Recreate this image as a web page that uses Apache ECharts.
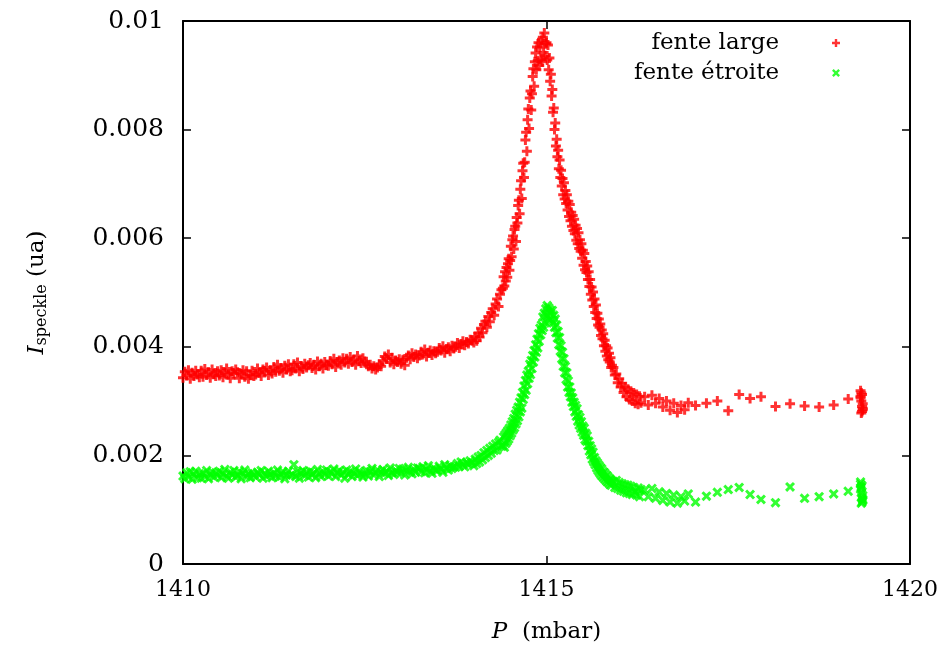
<!DOCTYPE html>
<html>
<head>
<meta charset="utf-8">
<script src="https://cdn.jsdelivr.net/npm/echarts@6/dist/echarts.min.js"></script>
<style>
  html, body { margin: 0; padding: 0; background: #fff; }
  #chart { width: 949px; height: 651px; }
</style>
</head>
<body>
<div id="chart"></div>
<script>
// pression (mbar), commune aux deux mesures
const pressure = [
  1410.000, 1410.025, 1410.050, 1410.075, 1410.100, 1410.125, 1410.150, 1410.175, 1410.200, 1410.225,
  1410.250, 1410.275, 1410.300, 1410.325, 1410.350, 1410.375, 1410.400, 1410.425, 1410.450, 1410.475,
  1410.500, 1410.525, 1410.550, 1410.575, 1410.600, 1410.625, 1410.650, 1410.675, 1410.700, 1410.725,
  1410.750, 1410.775, 1410.800, 1410.825, 1410.850, 1410.875, 1410.900, 1410.925, 1410.950, 1410.975,
  1411.000, 1411.025, 1411.050, 1411.075, 1411.100, 1411.125, 1411.150, 1411.175, 1411.200, 1411.225,
  1411.250, 1411.275, 1411.300, 1411.325, 1411.350, 1411.375, 1411.400, 1411.425, 1411.450, 1411.475,
  1411.500, 1411.525, 1411.550, 1411.575, 1411.600, 1411.625, 1411.650, 1411.675, 1411.700, 1411.725,
  1411.750, 1411.775, 1411.800, 1411.825, 1411.850, 1411.875, 1411.900, 1411.925, 1411.950, 1411.975,
  1412.000, 1412.025, 1412.050, 1412.075, 1412.100, 1412.125, 1412.150, 1412.175, 1412.200, 1412.225,
  1412.250, 1412.275, 1412.300, 1412.325, 1412.350, 1412.375, 1412.400, 1412.425, 1412.450, 1412.475,
  1412.500, 1412.525, 1412.550, 1412.575, 1412.600, 1412.625, 1412.650, 1412.675, 1412.700, 1412.725,
  1412.750, 1412.775, 1412.800, 1412.825, 1412.850, 1412.875, 1412.900, 1412.925, 1412.950, 1412.975,
  1413.000, 1413.025, 1413.050, 1413.075, 1413.100, 1413.125, 1413.150, 1413.175, 1413.200, 1413.225,
  1413.250, 1413.275, 1413.300, 1413.325, 1413.350, 1413.375, 1413.400, 1413.425, 1413.450, 1413.475,
  1413.500, 1413.525, 1413.550, 1413.575, 1413.600, 1413.625, 1413.650, 1413.675, 1413.700, 1413.725,
  1413.750, 1413.775, 1413.800, 1413.825, 1413.850, 1413.875, 1413.900, 1413.925, 1413.950, 1413.975,
  1414.00, 1414.02, 1414.04, 1414.06, 1414.08, 1414.10, 1414.12, 1414.14, 1414.16, 1414.18,
  1414.20, 1414.22, 1414.24, 1414.26, 1414.28, 1414.30, 1414.32, 1414.34, 1414.36, 1414.38,
  1414.40, 1414.41, 1414.42, 1414.43, 1414.44, 1414.45, 1414.46, 1414.47, 1414.48, 1414.49,
  1414.50, 1414.51, 1414.52, 1414.53, 1414.54, 1414.55, 1414.56, 1414.57, 1414.58, 1414.59,
  1414.60, 1414.61, 1414.62, 1414.63, 1414.64, 1414.65, 1414.66, 1414.67, 1414.68, 1414.69,
  1414.70, 1414.71, 1414.72, 1414.73, 1414.74, 1414.75, 1414.76, 1414.77, 1414.78, 1414.79,
  1414.80, 1414.81, 1414.82, 1414.83, 1414.84, 1414.85, 1414.86, 1414.87, 1414.88, 1414.89,
  1414.90, 1414.91, 1414.92, 1414.93, 1414.94, 1414.95, 1414.96, 1414.97, 1414.98, 1414.99,
  1415.00, 1415.01, 1415.02, 1415.03, 1415.04, 1415.05, 1415.06, 1415.07, 1415.08, 1415.09,
  1415.10, 1415.11, 1415.12, 1415.13, 1415.14, 1415.15, 1415.16, 1415.17, 1415.18, 1415.19,
  1415.20, 1415.21, 1415.22, 1415.23, 1415.24, 1415.25, 1415.26, 1415.27, 1415.28, 1415.29,
  1415.30, 1415.31, 1415.32, 1415.33, 1415.34, 1415.35, 1415.36, 1415.37, 1415.38, 1415.39,
  1415.40, 1415.41, 1415.42, 1415.43, 1415.44, 1415.45, 1415.46, 1415.47, 1415.48, 1415.49,
  1415.50, 1415.51, 1415.52, 1415.53, 1415.54, 1415.55, 1415.56, 1415.57, 1415.58, 1415.59,
  1415.60, 1415.61, 1415.62, 1415.63, 1415.64, 1415.65, 1415.66, 1415.67, 1415.68, 1415.69,
  1415.70, 1415.71, 1415.72, 1415.73, 1415.74, 1415.75, 1415.76, 1415.77, 1415.78, 1415.79,
  1415.80, 1415.81, 1415.82, 1415.83, 1415.84, 1415.85, 1415.86, 1415.87, 1415.88, 1415.89,
  1415.90,
  1415.92, 1415.94, 1415.96, 1415.98, 1416.00, 1416.02, 1416.04, 1416.06, 1416.08, 1416.10,
  1416.12, 1416.14, 1416.16, 1416.18, 1416.20, 1416.22, 1416.24, 1416.26, 1416.28, 1416.30,
  1416.35, 1416.40, 1416.45, 1416.50, 1416.55, 1416.60, 1416.65, 1416.70, 1416.75, 1416.80,
  1416.85, 1416.90, 1416.95,
  1417.05, 1417.20, 1417.35, 1417.50, 1417.65, 1417.80, 1417.95, 1418.15, 1418.35, 1418.55,
  1418.75, 1418.95, 1419.15,
  1419.32, 1419.33, 1419.34, 1419.35, 1419.32, 1419.34, 1419.33, 1419.35, 1419.32, 1419.34,
  1419.33, 1419.35
];

// I_speckle (ua), fente large
const fenteLarge = [
  0.00343, 0.00354, 0.00347, 0.00357, 0.00341, 0.00352, 0.00346, 0.00356, 0.00349, 0.00344,
  0.00356, 0.00345, 0.00359, 0.00348, 0.00353, 0.00343, 0.00358, 0.00350, 0.00346, 0.00355,
  0.00347, 0.00357, 0.00344, 0.00352, 0.00360, 0.00349, 0.00342, 0.00355, 0.00351, 0.00358,
  0.00353, 0.00342, 0.00350, 0.00357, 0.00345, 0.00355, 0.00341, 0.00348, 0.00356, 0.00346,
  0.00349, 0.00360, 0.00352, 0.00346, 0.00358, 0.00355, 0.00362, 0.00348, 0.00357, 0.00351,
  0.00363, 0.00354, 0.00367, 0.00356, 0.00361, 0.00352, 0.00365, 0.00358, 0.00368, 0.00355,
  0.00357, 0.00368, 0.00360, 0.00371, 0.00355, 0.00364, 0.00359, 0.00369, 0.00362, 0.00366,
  0.00370, 0.00361, 0.00367, 0.00358, 0.00373, 0.00364, 0.00369, 0.00360, 0.00372, 0.00366,
  0.00365, 0.00374, 0.00368, 0.00378, 0.00363, 0.00372, 0.00375, 0.00367, 0.00379, 0.00371,
  0.00378, 0.00369, 0.00381, 0.00372, 0.00376, 0.00367, 0.00383, 0.00374, 0.00370, 0.00379,
  0.00373, 0.00368, 0.00364, 0.00367, 0.00360, 0.00364, 0.00358, 0.00362, 0.00368, 0.00364,
  0.00374, 0.00382, 0.00378, 0.00386, 0.00371, 0.00380, 0.00368, 0.00375, 0.00372, 0.00377,
  0.00369, 0.00376, 0.00366, 0.00380, 0.00384, 0.00377, 0.00388, 0.00381, 0.00386, 0.00379,
  0.00384, 0.00391, 0.00386, 0.00395, 0.00382, 0.00389, 0.00393, 0.00385, 0.00392, 0.00388,
  0.00391, 0.00398, 0.00393, 0.00401, 0.00389, 0.00396, 0.00399, 0.00392, 0.00402, 0.00397,
  0.00400, 0.00407, 0.00398, 0.00405, 0.00410, 0.00403, 0.00409, 0.00406, 0.00413, 0.00411,
  0.00408, 0.00419, 0.00411, 0.00425, 0.00418, 0.00434, 0.00426, 0.00441, 0.00447, 0.00436,
  0.00456, 0.00446, 0.00463, 0.00470, 0.00458, 0.00479, 0.00488, 0.00474, 0.00497, 0.00505,
  0.00508, 0.00529, 0.00512, 0.00538, 0.00521, 0.00546, 0.00528, 0.00553, 0.00562, 0.00541,
  0.00559, 0.00585, 0.00566, 0.00597, 0.00604, 0.00580, 0.00616, 0.00622, 0.00594, 0.00638,
  0.00628, 0.00660, 0.00670, 0.00645, 0.00690, 0.00706, 0.00673, 0.00724, 0.00738, 0.00712,
  0.00740, 0.00781, 0.00795, 0.00760, 0.00818, 0.00838, 0.00802, 0.00858, 0.00871, 0.00836,
  0.00866, 0.00898, 0.00912, 0.00880, 0.00925, 0.00941, 0.00910, 0.00952, 0.00927, 0.00960,
  0.00918, 0.00952, 0.00930, 0.00964, 0.00925, 0.00970, 0.00942, 0.00978, 0.00936, 0.00958,
  0.00960, 0.00928, 0.00956, 0.00910, 0.00932, 0.00889, 0.00902, 0.00862, 0.00874, 0.00832,
  0.00840, 0.00800, 0.00812, 0.00770, 0.00782, 0.00750, 0.00762, 0.00728, 0.00744, 0.00712,
  0.00725, 0.00696, 0.00710, 0.00680, 0.00702, 0.00672, 0.00688, 0.00664, 0.00680, 0.00652,
  0.00668, 0.00640, 0.00662, 0.00632, 0.00648, 0.00622, 0.00642, 0.00614, 0.00635, 0.00608,
  0.00624, 0.00596, 0.00618, 0.00590, 0.00610, 0.00581, 0.00597, 0.00576, 0.00590, 0.00563,
  0.00578, 0.00550, 0.00572, 0.00542, 0.00557, 0.00537, 0.00549, 0.00524, 0.00538, 0.00511,
  0.00524, 0.00497, 0.00510, 0.00486, 0.00501, 0.00474, 0.00488, 0.00463, 0.00477, 0.00452,
  0.00462, 0.00440, 0.00451, 0.00436, 0.00442, 0.00421, 0.00431, 0.00415, 0.00424, 0.00402,
  0.00412, 0.00392, 0.00402, 0.00383, 0.00398, 0.00376, 0.00388, 0.00372, 0.00380, 0.00362,
  0.00366,
  0.00362, 0.00348, 0.00350, 0.00334, 0.00341, 0.00326, 0.00333, 0.00316, 0.00326, 0.00308,
  0.00322, 0.00303, 0.00318, 0.00300, 0.00315, 0.00296, 0.00312, 0.00294, 0.00309, 0.00297,
  0.00308, 0.00293, 0.00311, 0.00296, 0.00305, 0.00289, 0.00300, 0.00283, 0.00296, 0.00279,
  0.00292, 0.00284, 0.00297,
  0.00292, 0.00296, 0.00300, 0.00282, 0.00312, 0.00305, 0.00308, 0.00290, 0.00295, 0.00291,
  0.00289, 0.00293, 0.00304,
  0.00319, 0.00278, 0.00312, 0.00284, 0.00306, 0.00290, 0.00300, 0.00287, 0.00309, 0.00281,
  0.00315, 0.00295
];

// I_speckle (ua), fente étroite
const fenteEtroite = [
  0.00162, 0.00157, 0.00168, 0.00160, 0.00170, 0.00156, 0.00165, 0.00171, 0.00159, 0.00166,
  0.00158, 0.00167, 0.00161, 0.00172, 0.00157, 0.00165, 0.00169, 0.00160, 0.00168, 0.00163,
  0.00171, 0.00159, 0.00166, 0.00174, 0.00162, 0.00158, 0.00169, 0.00164, 0.00172, 0.00160,
  0.00163, 0.00170, 0.00157, 0.00167, 0.00173, 0.00161, 0.00166, 0.00159, 0.00168, 0.00164,
  0.00160, 0.00169, 0.00164, 0.00172, 0.00158, 0.00167, 0.00162, 0.00171, 0.00165, 0.00159,
  0.00168, 0.00162, 0.00173, 0.00160, 0.00166, 0.00170, 0.00157, 0.00164, 0.00171, 0.00163,
  0.00165, 0.00183, 0.00161, 0.00170, 0.00158, 0.00167, 0.00172, 0.00163, 0.00169, 0.00160,
  0.00171, 0.00164, 0.00168, 0.00159, 0.00174, 0.00166, 0.00161, 0.00170, 0.00165, 0.00173,
  0.00162, 0.00170, 0.00166, 0.00175, 0.00161, 0.00168, 0.00172, 0.00164, 0.00169, 0.00158,
  0.00173, 0.00165, 0.00170, 0.00161, 0.00167, 0.00175, 0.00163, 0.00171, 0.00166, 0.00160,
  0.00166, 0.00172, 0.00162, 0.00170, 0.00176, 0.00164, 0.00168, 0.00173, 0.00161, 0.00169,
  0.00174, 0.00167, 0.00171, 0.00163, 0.00177, 0.00168, 0.00165, 0.00172, 0.00169, 0.00176,
  0.00168, 0.00175, 0.00164, 0.00172, 0.00178, 0.00170, 0.00166, 0.00174, 0.00169, 0.00177,
  0.00176, 0.00170, 0.00179, 0.00168, 0.00174, 0.00181, 0.00171, 0.00167, 0.00177, 0.00173,
  0.00172, 0.00180, 0.00175, 0.00169, 0.00183, 0.00177, 0.00173, 0.00181, 0.00176, 0.00179,
  0.00178, 0.00185, 0.00180, 0.00188, 0.00183, 0.00179, 0.00187, 0.00184, 0.00190, 0.00186,
  0.00181, 0.00193, 0.00185, 0.00197, 0.00188, 0.00200, 0.00192, 0.00205, 0.00196, 0.00209,
  0.00200, 0.00213, 0.00204, 0.00217, 0.00209, 0.00221, 0.00210, 0.00224, 0.00228, 0.00217,
  0.00218, 0.00234, 0.00215, 0.00238, 0.00222, 0.00242, 0.00226, 0.00246, 0.00230, 0.00250,
  0.00236, 0.00256, 0.00241, 0.00262, 0.00247, 0.00268, 0.00251, 0.00276, 0.00258, 0.00283,
  0.00264, 0.00289, 0.00271, 0.00298, 0.00280, 0.00306, 0.00287, 0.00316, 0.00303, 0.00328,
  0.00312, 0.00338, 0.00320, 0.00348, 0.00332, 0.00355, 0.00342, 0.00368, 0.00349, 0.00375,
  0.00360, 0.00384, 0.00372, 0.00393, 0.00381, 0.00404, 0.00390, 0.00414, 0.00398, 0.00424,
  0.00410, 0.00434, 0.00422, 0.00440, 0.00430, 0.00455, 0.00436, 0.00462, 0.00444, 0.00470,
  0.00458, 0.00476, 0.00455, 0.00472, 0.00450, 0.00468, 0.00462, 0.00449, 0.00467, 0.00444,
  0.00458, 0.00436, 0.00451, 0.00426, 0.00440, 0.00416, 0.00428, 0.00404, 0.00417, 0.00392,
  0.00402, 0.00378, 0.00390, 0.00364, 0.00378, 0.00352, 0.00364, 0.00340, 0.00352, 0.00326,
  0.00337, 0.00316, 0.00326, 0.00308, 0.00315, 0.00298, 0.00306, 0.00290, 0.00298, 0.00280,
  0.00292, 0.00272, 0.00286, 0.00263, 0.00275, 0.00256, 0.00270, 0.00250, 0.00262, 0.00243,
  0.00254, 0.00237, 0.00250, 0.00229, 0.00241, 0.00226, 0.00236, 0.00218, 0.00226, 0.00208,
  0.00218, 0.00201, 0.00212, 0.00193, 0.00206, 0.00188, 0.00196, 0.00183, 0.00190, 0.00177,
  0.00186, 0.00172, 0.00182, 0.00168, 0.00178, 0.00164, 0.00175, 0.00161, 0.00170, 0.00158,
  0.00168, 0.00155, 0.00164, 0.00152, 0.00162, 0.00150, 0.00158, 0.00147, 0.00156, 0.00145,
  0.00153,
  0.00152, 0.00141, 0.00154, 0.00139, 0.00150, 0.00136, 0.00148, 0.00134, 0.00146, 0.00131,
  0.00145, 0.00130, 0.00143, 0.00128, 0.00141, 0.00133, 0.00127, 0.00140, 0.00124, 0.00137,
  0.00136, 0.00124, 0.00139, 0.00121, 0.00133, 0.00117, 0.00130, 0.00114, 0.00127, 0.00112,
  0.00124, 0.00116, 0.00129,
  0.00114, 0.00125, 0.00132, 0.00137, 0.00141, 0.00128, 0.00119, 0.00113, 0.00142, 0.00121,
  0.00124, 0.00129, 0.00134,
  0.00151, 0.00112, 0.00144, 0.00117, 0.00138, 0.00122, 0.00131, 0.00126, 0.00147, 0.00114,
  0.00141, 0.00119
];

if (pressure.length !== fenteLarge.length || pressure.length !== fenteEtroite.length) {
  throw new Error("lengths " + pressure.length + " " + fenteLarge.length + " " + fenteEtroite.length);
}

const plusPath = "path://M3.5,0H6.5V3.5H10V6.5H6.5V10H3.5V6.5H0V3.5H3.5Z";
const crossPath = "path://M0,2.1L2.1,0L5,2.9L7.9,0L10,2.1L7.1,5L10,7.9L7.9,10L5,7.1L2.1,10L0,7.9L2.9,5Z";
const font = "DejaVu Serif";

const myChart = echarts.init(document.getElementById("chart"));

const axisLine = { show: true, onZero: false, lineStyle: { color: "#000", width: 2 } };
const axisTick = { show: true, inside: true, length: 8, lineStyle: { color: "#000", width: 1.5 } };

const option = {
  animation: false,
  backgroundColor: "#fff",
  grid: { left: 183, right: 39, top: 21, bottom: 87, outerBoundsMode: "none" },
  legend: {
    orient: "vertical",
    right: 104,
    top: 25,
    align: "right",
    itemWidth: 8,
    itemHeight: 8,
    itemGap: 4,
    selectedMode: false,
    textStyle: { fontFamily: font, fontSize: 23, color: "#000", lineHeight: 26, padding: [0, 48, 0, 0] },
    data: [
      { name: "fente large", icon: plusPath },
      { name: "fente étroite", icon: crossPath }
    ]
  },
  xAxis: [
    {
      type: "value",
      min: 1410,
      max: 1420,
      interval: 5,
      position: "bottom",
      axisLine: axisLine,
      axisTick: axisTick,
      splitLine: { show: false },
      axisLabel: {
        margin: 15,
        fontFamily: font,
        fontSize: 22,
        color: "#000",
        formatter: function (v) { return String(v); }
      },
      name: "{i|P}  (mbar)",
      nameLocation: "middle",
      nameGap: 57,
      nameTextStyle: {
        fontFamily: font,
        fontSize: 23,
        color: "#000",
        rich: { i: { fontFamily: font, fontSize: 23, fontStyle: "italic", color: "#000" } }
      }
    },
    {
      type: "value",
      min: 1410,
      max: 1420,
      interval: 5,
      position: "top",
      axisLine: axisLine,
      axisTick: axisTick,
      splitLine: { show: false },
      axisLabel: { show: false }
    }
  ],
  yAxis: [
    {
      type: "value",
      min: 0,
      max: 0.01,
      interval: 0.002,
      position: "left",
      axisLine: axisLine,
      axisTick: axisTick,
      splitLine: { show: false },
      axisLabel: { margin: 19, fontFamily: font, fontSize: 25, color: "#000" },
      name: "{i|I}{s|speckle} (ua)",
      nameLocation: "middle",
      nameGap: 133,
      nameTextStyle: {
        fontFamily: font,
        fontSize: 23,
        color: "#000",
        rich: {
          i: { fontFamily: font, fontSize: 23, fontStyle: "italic", color: "#000" },
          s: { fontFamily: font, fontSize: 16, color: "#000", padding: [10, 0, 0, 0] }
        }
      }
    },
    {
      type: "value",
      min: 0,
      max: 0.01,
      interval: 0.002,
      position: "right",
      axisLine: axisLine,
      axisTick: axisTick,
      splitLine: { show: false },
      axisLabel: { show: false }
    }
  ],
  series: [
    {
      name: "fente large",
      type: "scatter",
      symbol: plusPath,
      symbolSize: 10,
      itemStyle: { color: "#ff0000" },
      emphasis: { disabled: true },
      data: pressure.map((p, i) => [p, fenteLarge[i]])
    },
    {
      name: "fente étroite",
      type: "scatter",
      symbol: crossPath,
      symbolSize: 10,
      itemStyle: { color: "#00ff00" },
      emphasis: { disabled: true },
      data: pressure.map((p, i) => [p, fenteEtroite[i]])
    }
  ]
};

myChart.setOption(option);
window.addEventListener("resize", function () {
  myChart.resize();
});
</script>
</body>
</html>
